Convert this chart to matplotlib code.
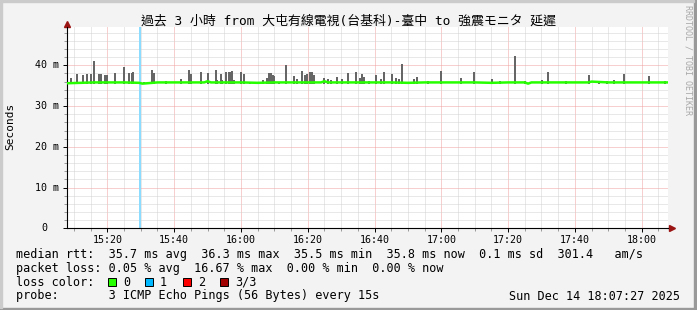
import matplotlib
matplotlib.use("Agg")
import matplotlib.pyplot as plt
from matplotlib.patches import Rectangle
from matplotlib.ticker import MultipleLocator, FixedLocator
from matplotlib.transforms import offset_copy

W, H = 697, 310

title = "過去 3 小時 from 大屯有線電視(台基科)-臺中 to 強震モニタ 延遲"

# time axis: minutes after 15:00
t_start, t_end = 7.9, 187.9
xtick_min = [20, 40, 60, 80, 100, 120, 140, 160, 180]
xtick_lab = ["15:20", "15:40", "16:00", "16:20", "16:40", "17:00", "17:20", "17:40", "18:00"]
ytick_ms = [0, 10, 20, 30, 40]
y_top = 49.4

# smoke spikes (max ping, ms)
spike_t = [8.0, 9.1, 11.0, 12.6, 13.8, 15.0, 15.9, 17.4, 18.1, 19.4, 19.8, 22.4, 25.1, 26.5, 27.3,
           27.7, 31.0, 33.4, 33.9, 37.5, 41.9, 44.4, 45.0, 47.9, 50.1, 52.4, 52.9, 53.9, 54.2, 55.6,
           56.3, 56.9, 57.4, 57.9, 60.0, 60.8, 62.7, 66.5, 67.7, 68.3, 68.9, 69.5, 69.9, 71.4, 73.5,
           75.9, 76.7, 78.3, 79.3, 79.8, 80.7, 81.3, 81.9, 84.8, 86.1, 87.1, 88.8, 90.2, 92.1, 94.4,
           95.8, 96.3, 96.8, 98.4, 100.3, 101.8, 102.7, 105.3, 106.3, 107.2, 108.3, 111.7, 112.8,
           116.1, 119.8, 125.8, 129.7, 135.2, 137.5, 142.2, 145.2, 150.2, 152.1, 157.3, 164.1,
           167.1, 169.7, 171.6, 174.6, 182.1, 186.9]
spike_max = [37.9, 36.8, 37.9, 37.6, 37.9, 37.9, 41.1, 37.8, 37.9, 37.5, 37.6, 38.0, 39.7, 38.2, 38.0,
             38.3, 36.0, 38.9, 38.2, 36.2, 36.6, 38.9, 37.9, 38.4, 38.0, 38.9, 36.4, 37.9, 36.4, 38.4,
             38.4, 38.3, 38.7, 36.4, 38.4, 37.9, 36.0, 36.4, 36.8, 38.2, 38.0, 37.6, 37.4, 36.0, 40.1,
             37.4, 36.7, 38.6, 37.7, 37.8, 38.3, 38.3, 37.6, 37.0, 36.6, 36.4, 37.2, 36.7, 38.0, 38.4,
             36.8, 37.9, 37.2, 36.2, 37.6, 36.6, 38.4, 37.9, 37.0, 36.6, 40.3, 36.6, 37.2,
             36.2, 38.6, 37.0, 38.4, 36.6, 36.2, 42.3, 36.2, 36.4, 38.4, 36.2, 37.6,
             36.2, 36.2, 36.4, 37.9, 37.4, 36.2]
rtt_min = 35.5

# median rtt (ms)
med_t = [7.9, 12, 16, 20, 25, 29.5, 30.5, 35, 40, 45, 49, 50, 51, 55, 60, 65, 70, 75, 80, 84,
         85, 86, 90, 95, 100, 105, 110, 115, 120, 125, 130, 135, 140, 145, 146, 147, 150, 155, 160, 164,
         165, 170, 175, 180, 187.9]
med_v = [35.6, 35.7, 35.8, 35.8, 35.8, 35.7, 35.5, 35.8, 35.8, 35.8, 35.8, 36.1, 35.8, 35.8, 35.8,
         35.7, 35.8, 35.8, 35.8, 35.8, 36.1, 35.8, 35.8, 35.8, 35.8, 35.8, 35.7, 35.8, 35.8, 35.8,
         35.8, 35.7, 35.8, 35.8, 35.5, 35.8, 35.8, 35.8, 35.8, 35.8, 36.0, 35.8, 35.8, 35.8, 35.8]

# packet loss events (1 of 3 lost)
loss_t = [29.8]

loss_labels = ["0", "1", "2", "3/3"]
loss_colors = ["#26ff00", "#00b8ff", "#ff0000", "#a00000"]

rtt_line = "median rtt:  35.7 ms avg  36.3 ms max  35.5 ms min  35.8 ms now  0.1 ms sd  301.4   am/s"
loss_line = "packet loss: 0.05 % avg  16.67 % max  0.00 % min  0.00 % now"
probe_line = "probe:       3 ICMP Echo Pings (56 Bytes) every 15s"
date_text = "Sun Dec 14 18:07:27 2025"

MONO = "DejaVu Sans Mono"


def fx(x):
    return x / W


def fy(y):
    return 1 - y / H


fig = plt.figure(figsize=(W / 100, H / 100), dpi=100, facecolor="#f3f3f3")

# 3d frame
fig.patches.append(Rectangle((0, 0), 1, 2 / H, transform=fig.transFigure, color="#999999", zorder=0))
fig.patches.append(Rectangle((1 - 3 / W, 0), 3 / W, 1, transform=fig.transFigure, color="#999999", zorder=0))
fig.patches.append(Rectangle((0, 1 - 2 / H), 1 - 3 / W, 2 / H, transform=fig.transFigure, color="#cbcbcb", zorder=0))
fig.patches.append(Rectangle((0, 2 / H), 2 / W, 1, transform=fig.transFigure, color="#cbcbcb", zorder=0))

ax = fig.add_axes([fx(67), fy(228.3), fx(668 - 67), (228.3 - 27) / H])
ax.set_facecolor("white")
ax.set_xlim(t_start, t_end)
ax.set_ylim(0, y_top)

ax.xaxis.set_major_locator(FixedLocator(xtick_min))
ax.xaxis.set_minor_locator(MultipleLocator(5))
ax.yaxis.set_major_locator(FixedLocator(ytick_ms))
ax.yaxis.set_minor_locator(MultipleLocator(2))
ax.set_axisbelow(True)
ax.grid(which="minor", color="#d2d2d2", linestyle=(0, (1, 1)), linewidth=0.72)
ax.grid(which="major", color="#f2a0a0", linestyle=(0, (1, 1)), linewidth=0.72)

for t in loss_t:
    ax.axvspan(t - 0.35, t + 0.35, color="#8cdcff", lw=0, zorder=1.5)

ax.bar(spike_t, [m - rtt_min for m in spike_max], bottom=rtt_min, width=0.6,
       color="#666666", lw=0, zorder=2)
ax.plot(med_t, med_v, color=loss_colors[0], lw=1.8, zorder=3, solid_capstyle="butt")

for s in ["top", "right"]:
    ax.spines[s].set_visible(False)
for s in ["left", "bottom"]:
    ax.spines[s].set_linewidth(0.8)
    ax.spines[s].set_color("black")

# axis arrows
ax.plot([1, 1 + 4 / 601], [0, 0], transform=ax.transAxes, color="black", lw=0.8, clip_on=False)
ax.plot([0, 0], [1, 1 + 3 / 201], transform=ax.transAxes, color="black", lw=0.8, clip_on=False)
ax.plot([1 + 4 / 601], [0], transform=ax.transAxes, marker=">", ms=4.5, color="#9b1414",
        mec="#9b1414", clip_on=False)
ax.plot([0], [1 + 3 / 201], transform=ax.transAxes, marker="^", ms=4.5, color="#9b1414",
        mec="#9b1414", clip_on=False)

ax.tick_params(which="major", length=3, width=0.7, color="black")
ax.tick_params(which="minor", length=2, width=0.7, color="#999999")
ax.tick_params(axis="x", which="major", pad=1.5)
ax.set_xticklabels(xtick_lab, fontfamily=MONO, fontsize=7.2)
ax.set_yticklabels([])

lab_tr = offset_copy(ax.get_yaxis_transform(), fig=fig, x=-8, y=0, units="dots")
zero_tr = offset_copy(ax.get_yaxis_transform(), fig=fig, x=-20, y=0, units="dots")
for v in ytick_ms:
    txt = f"{v} m" if v else "0"
    ax.text(0, v, txt, transform=lab_tr if v else zero_tr, ha="right", va="center",
            fontfamily=MONO, fontsize=7.2)

fig.text(fx(10.7), fy(126.5), "Seconds", rotation=90, ha="center", va="center",
         fontfamily=MONO, fontsize=8)
fig.text(0.5, fy(21.5), title, ha="center", va="center", fontsize=9.3,
         family=[MONO, "Noto Sans CJK TC"])
fig.text(fx(688), fy(5), "RRDTOOL / TOBI OETIKER", rotation=270, ha="center", va="top",
         fontfamily=MONO, fontsize=6, color="#a8a8a8")

fig.text(fx(16), fy(254.5), rtt_line, va="center", fontfamily=MONO, fontsize=8.5)
fig.text(fx(16), fy(268.3), loss_line, va="center", fontfamily=MONO, fontsize=8.5)
fig.text(fx(16), fy(282), "loss color:", va="center", fontfamily=MONO, fontsize=8.5)
box_x = [108, 145, 183, 220]
for bx, lab, col in zip(box_x, loss_labels, loss_colors):
    fig.patches.append(Rectangle((fx(bx), fy(286)), 8 / W, 8 / H, transform=fig.transFigure,
                                 facecolor=col, edgecolor="black", lw=0.7))
    fig.text(fx(bx + 15), fy(282), lab, va="center", fontfamily=MONO, fontsize=8.5)
fig.text(fx(16), fy(296), probe_line, va="center", fontfamily=MONO, fontsize=8.5)
fig.text(fx(680), fy(296), date_text, va="center", ha="right", fontfamily=MONO, fontsize=8.5)

fig.savefig("out.png", dpi=100, facecolor=fig.get_facecolor())
